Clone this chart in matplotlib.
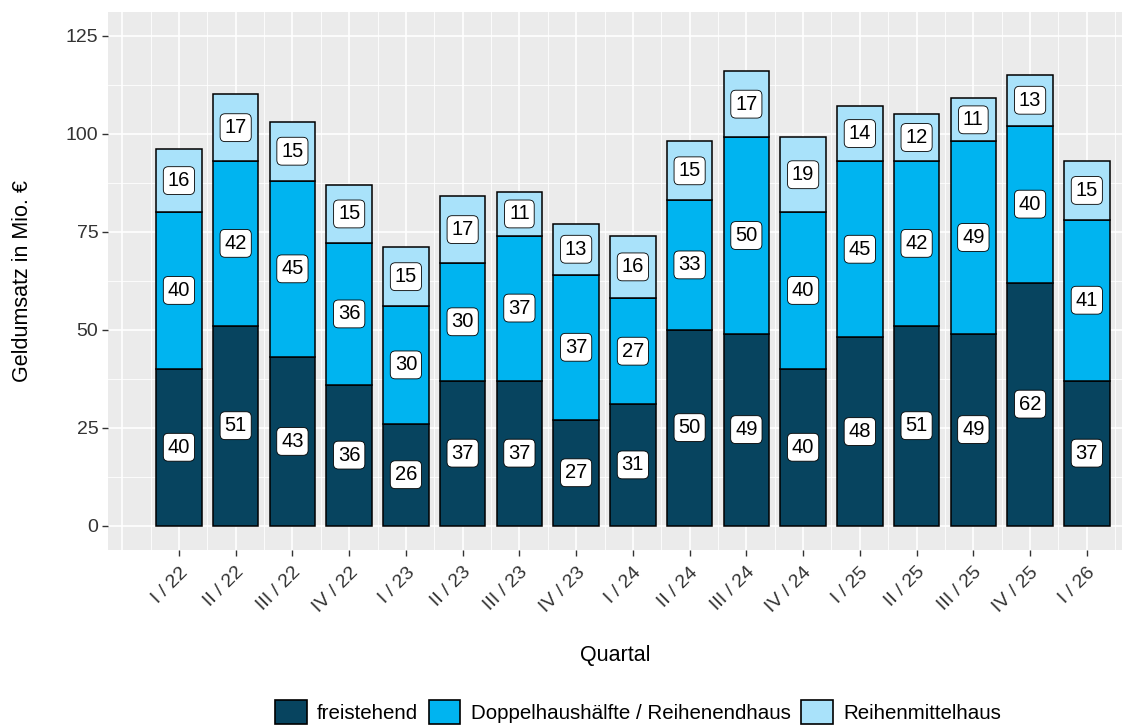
import matplotlib
matplotlib.use("Agg")
import matplotlib.pyplot as plt
import numpy as np
from matplotlib.patches import Patch
from matplotlib.ticker import MultipleLocator

plt.rcParams["font.family"] = ["Liberation Sans", "DejaVu Sans"]

# ── Data ──────────────────────────────────────────────────────────────────────
quarters = ["I / 22", "II / 22", "III / 22", "IV / 22",
            "I / 23", "II / 23", "III / 23", "IV / 23",
            "I / 24", "II / 24", "III / 24", "IV / 24",
            "I / 25", "II / 25", "III / 25", "IV / 25", "I / 26"]
freistehend = [40, 51, 43, 36, 26, 37, 37, 27, 31, 50, 49, 40, 48, 51, 49, 62, 37]
doppelhaus = [40, 42, 45, 36, 30, 30, 37, 37, 27, 33, 50, 40, 45, 42, 49, 40, 41]
reihenmittel = [16, 17, 15, 15, 15, 17, 11, 13, 16, 15, 17, 19, 14, 12, 11, 13, 15]

series_names = ["freistehend", "Doppelhaushälfte / Reihenendhaus", "Reihenmittelhaus"]
series_colors = ["#07445f", "#00b4f0", "#a9e2fa"]

W, H = 1136, 728

# ── Plot ──────────────────────────────────────────────────────────────────────
fig = plt.figure(figsize=(W / 100, H / 100), dpi=100)
p_left, p_right, p_top, p_bottom = 108, 1122, 12, 550
ax = fig.add_axes([p_left / W, 1 - p_bottom / H,
                   (p_right - p_left) / W, (p_bottom - p_top) / H])
ax.set_facecolor("#EBEBEB")

x = np.arange(1, len(quarters) + 1)
bottom = np.zeros(len(quarters))
for vals, col in zip([freistehend, doppelhaus, reihenmittel], series_colors):
    vals = np.array(vals, dtype=float)
    ax.bar(x, vals, bottom=bottom, width=0.8, color=col,
           edgecolor="black", linewidth=1.1, zorder=3)
    for xi, b, v in zip(x, bottom, vals):
        ax.text(xi, b + v / 2, f"{int(v)}", ha="center", va="center",
                fontsize=14.5, color="black", zorder=5,
                bbox=dict(boxstyle="round,pad=0.22,rounding_size=0.25",
                          fc="white", ec="black", lw=0.6))
    bottom += vals

ax.set_xlim(-0.25, 17.62)
ax.set_ylim(-6.2, 131)

# grid like ggplot
ax.yaxis.set_major_locator(MultipleLocator(25))
for v in np.arange(0, 131, 25):
    ax.axhline(v, color="white", lw=1.2, zorder=1)
for v in np.arange(12.5, 131, 25):
    ax.axhline(v, color="white", lw=0.6, zorder=1)
for v in np.arange(0, 18):
    ax.axvline(v, color="white", lw=1.2, zorder=1)
for v in np.arange(0.5, 18, 1):
    ax.axvline(v, color="white", lw=0.6, zorder=1)

ax.set_xticks(x)
ax.set_xticklabels(quarters, rotation=45, ha="right", rotation_mode="anchor",
                   fontsize=14, color="#333333")
ax.tick_params(axis="x", length=4, width=1, color="#333333", pad=6)
ax.tick_params(axis="y", length=4, width=1, color="#333333", labelsize=14,
               labelcolor="#333333", pad=3)
for s in ax.spines.values():
    s.set_visible(False)

fig.text(23 / W, 1 - (p_top + p_bottom) / 2 / H, "Geldumsatz in Mio. €",
         rotation=90, ha="center", va="center", fontsize=15.5)
fig.text((p_left + p_right) / 2 / W, 1 - 655 / H, "Quartal",
         ha="center", va="center", fontsize=15.5)

handles = [Patch(facecolor=c, edgecolor="black", linewidth=1.2) for c in series_colors]
fig.legend(handles, series_names, loc="center", bbox_to_anchor=(638 / W, 1 - 712 / H),
           ncol=3, frameon=False, fontsize=14.8, handlelength=1.55,
           handleheight=1.45, handletextpad=0.5, columnspacing=0.5,
           borderpad=0, borderaxespad=0)

fig.savefig("out.png", dpi=100)
